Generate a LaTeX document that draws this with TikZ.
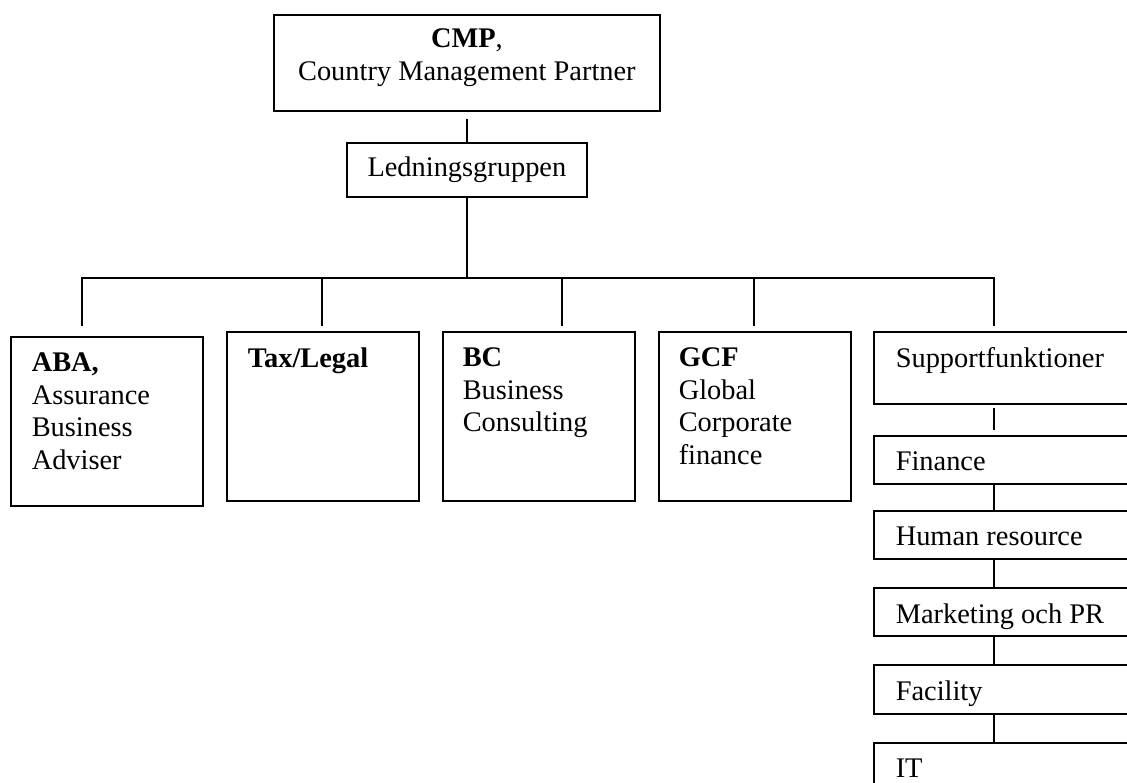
\documentclass[tikz,border=0pt]{standalone}
\usepackage{fontspec}
\setmainfont{Liberation Serif}
\usetikzlibrary{positioning}
\newcommand{\pxu}{0.4225pt}

\begin{document}
\begin{tikzpicture}[
    x=\pxu, y=-\pxu,
    font=\fontsize{12}{13.8}\selectfont,
    line width=0.65pt,
    box/.style={
        rectangle,
        draw,
        anchor=north west,
        inner sep=0pt,
        line width=0.75pt
    },
    dept/.style={
        minimum width=192*\pxu,
        minimum height=169*\pxu
    },
    stack/.style={
        minimum width=290*\pxu
    },
    txt/.style={
        anchor=north west,
        align=left,
        inner sep=0pt
    }
]
\useasboundingbox[fill=white] (0,0) rectangle (1127,783);

% === Top ===
\node[box, minimum width=386*\pxu, minimum height=96*\pxu] (cmp) at (273,14) {};
\node[txt, align=center, anchor=north] (cmpT) at ([yshift=-14*\pxu]cmp.north) {\textbf{CMP},\\Country Management Partner};
\node[box, minimum width=240*\pxu, minimum height=54*\pxu] (led) at (346,142) {Ledningsgruppen};

% === Departments ===
\node[box, dept] (aba) at (10,336) {};
\node[box, dept] (tax) at (226,331) {};
\node[box, dept] (bc) at (442,331) {};
\node[box, dept] (gcf) at (658,331) {};

\node[txt, below right=16*\pxu and 21*\pxu of aba.north west] (abaT) {\textbf{ABA,}\\Assurance\\Business\\Adviser};
\node[txt, below right=16*\pxu and 21*\pxu of tax.north west] (taxT) {\textbf{Tax/Legal}};
\node[txt, below right=16*\pxu and 20*\pxu of bc.north west] (bcT) {\textbf{BC}\\Business\\Consulting};
\node[txt, below right=16*\pxu and 20*\pxu of gcf.north west] (gcfT) {\textbf{GCF}\\Global\\Corporate\\finance};

% === Support stack ===
\node[box, stack, minimum height=72*\pxu] (sup) at (873,331) {};
\node[box, stack, minimum height=48*\pxu] (fin) at (873,435) {};
\node[box, stack, minimum height=48*\pxu] (hr) at (873,510) {};
\node[box, stack, minimum height=48*\pxu] (mkt) at (873,587) {};
\node[box, stack, minimum height=49*\pxu] (fac) at (873,664) {};
\node[box, stack, minimum height=60*\pxu] (it) at (873,742) {};

\node[txt, below right=16*\pxu and 22*\pxu of sup.north west] (supT) {Supportfunktioner};
\node[txt, below right=16*\pxu and 22*\pxu of fin.north west] (finT) {Finance};
\node[txt, below right=16*\pxu and 22*\pxu of hr.north west] (hrT) {Human resource};
\node[txt, below right=16*\pxu and 22*\pxu of mkt.north west] (mktT) {Marketing och PR};
\node[txt, below right=16*\pxu and 22*\pxu of fac.north west] (facT) {Facility};
\node[txt, below right=16*\pxu and 22*\pxu of it.north west] (itT) {IT};

% === Connectors ===
\coordinate (bar) at (466,278);
\coordinate (tA) at (82,326);
\coordinate (tB) at (322,326);
\coordinate (tC) at (562,326);
\coordinate (tD) at (754,326);
\coordinate (tE) at (994,326);

\draw[shorten <=7*\pxu] (cmp.south) -- (led.north);
\draw (led.south) -- (led.south |- bar);
\draw (tA) |- (bar) -| (tE);
\foreach \t in {tB, tC, tD}
    \draw (\t) -- (\t |- bar);
\draw[shorten <=3*\pxu, shorten >=5*\pxu] (sup.south -| tE) -- (fin.north -| tE);
\foreach \a/\b in {fin/hr, hr/mkt, mkt/fac, fac/it}
    \draw (\a.south -| tE) -- (\b.north -| tE);
\end{tikzpicture}
\end{document}
